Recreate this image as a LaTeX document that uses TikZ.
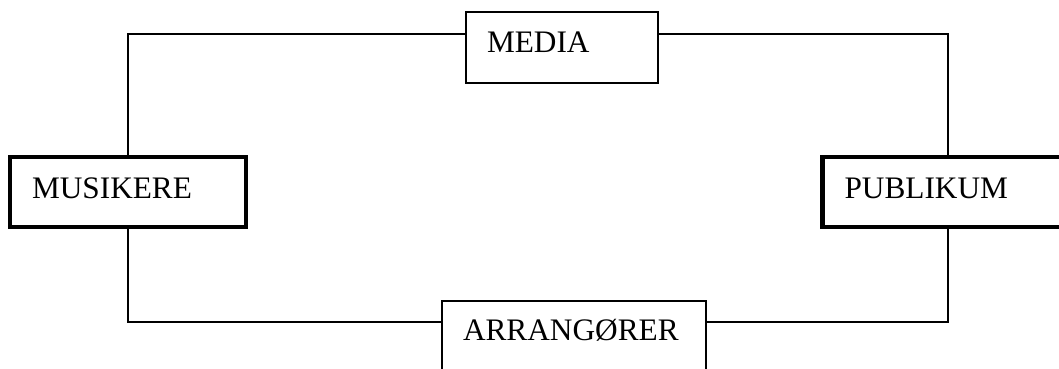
\documentclass[tikz,border=0pt]{standalone}
\usepackage{fontspec}
\setmainfont{Liberation Serif}

\tikzset{
    actorbox/.style={draw,rectangle,line width=1.6pt,align=left,
        inner xsep=21pt,text height=21pt,text depth=10pt,
        font=\fontsize{31.3}{36}\selectfont},
    mainactor/.style={actorbox,line width=4.8pt,inner xsep=22pt,text depth=7pt},
    linkline/.style={line width=1.6pt}
}

\begin{document}
\begin{tikzpicture}[x=1pt,y=1pt,line cap=butt,line join=miter]
        \useasboundingbox (0,0) rectangle (1059,369);
        \clip (0,0) rectangle (1059,369);

        % Aktørene
        \node[actorbox,minimum width=192pt,minimum height=71pt,
            text width=150pt] (media) at (562,321.5) {MEDIA};
        \node[mainactor,minimum width=236pt,minimum height=70pt,
            text width=192pt] (musikere) at (128,177) {MUSIKERE};
        \node[mainactor,minimum width=251pt,minimum height=70pt,
            text width=207pt] (publikum) at (948,177) {PUBLIKUM};
        \node[actorbox,minimum width=264pt,minimum height=71pt,
            text width=222pt,text depth=12pt] (arrangorer) at (574,32.5)
            {ARRANGØRER};

        % Forbindelser over
        \draw[linkline] (musikere.north) |- ([yshift=-23pt]media.north west);
        \draw[linkline] ([yshift=-23pt]media.north east) -| (publikum.north);

        % Forbindelser under
        \draw[linkline] (musikere.south) |- ([yshift=-22pt]arrangorer.north west);
        \draw[linkline] ([yshift=-22pt]arrangorer.north east) -| (publikum.south);
    \end{tikzpicture}
\end{document}
